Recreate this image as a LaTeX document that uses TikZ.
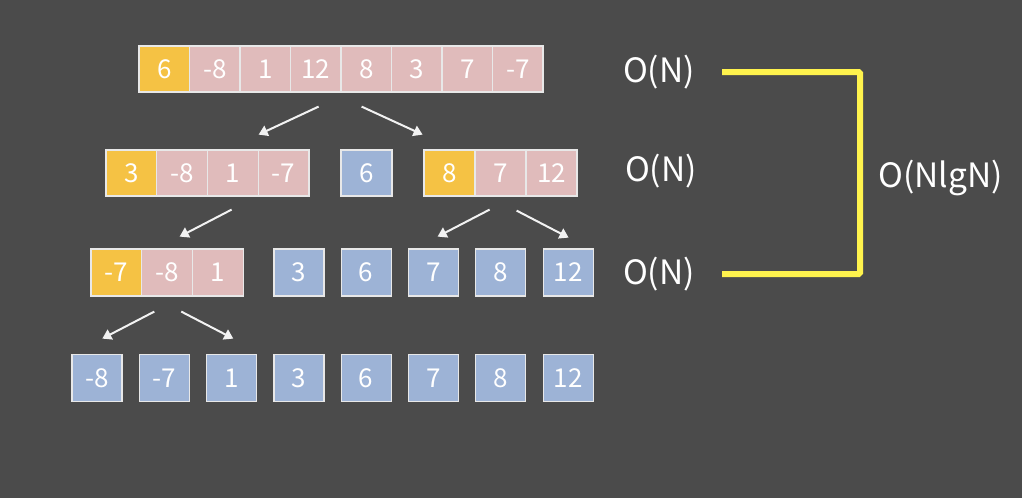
\documentclass[tikz,border=0pt]{standalone}
\usepackage{fontspec}
\setmainfont{Noto Sans CJK SC}
\usepackage{tikz}
\usetikzlibrary{arrows.meta,positioning,calc}
\definecolor{bg}{HTML}{4B4B4B}
\definecolor{pivotyellow}{HTML}{F5C244}
\definecolor{cellpink}{HTML}{E0BBBB}
\definecolor{cellblue}{HTML}{9DB3D6}
\definecolor{cellborder}{HTML}{E8E8E8}
\definecolor{bracketyellow}{HTML}{FFF34D}
\tikzset{
    cell/.style={draw=cellborder, line width=1.2pt, fill=cellpink, text=white,
        minimum height=46pt, inner sep=0pt, font=\fontsize{26}{28}\selectfont},
    pivot/.style={cell, fill=pivotyellow},
    done/.style={cell, fill=cellblue, minimum width=50pt, minimum height=47pt},
    arr/.style={draw=white!95!black, line width=2pt, -{Triangle[length=9pt,width=11pt]}},
    cost/.style={text=white, inner sep=0pt, font=\fontsize{33.5}{36}\selectfont},
    bracket/.style={draw=bracketyellow, line width=6pt, rounded corners=1.5pt}
}

\begin{document}
\begin{tikzpicture}[x=1pt, y=-1pt]
        % Background
        \fill[bg] (0,0) rectangle (1022,498);
        \useasboundingbox (0,0) rectangle (1022,498);

        % Whole array
        \foreach \v [count=\i] in {6,-8,1,12,8,3,7,-7} {
            \ifnum\i=1
                \node[pivot, minimum width=50.5pt] (t\i) at ({139+25.25+(\i-1)*50.5},69) {\v};
            \else
                \node[cell, minimum width=50.5pt] (t\i) at ({139+25.25+(\i-1)*50.5},69) {\v};
            \fi
        }

        % First split
        \foreach \v [count=\i] in {3,-8,1,-7} {
            \ifnum\i=1
                \node[pivot, minimum width=50.75pt] (a\i) at ({106+25.4+(\i-1)*50.75},173) {\v};
            \else
                \node[cell, minimum width=50.75pt] (a\i) at ({106+25.4+(\i-1)*50.75},173) {\v};
            \fi
        }
        \node[done, minimum height=46pt, minimum width=51pt] (b1) at (366.5,173) {6};
        \foreach \v [count=\i] in {8,7,12} {
            \ifnum\i=1
                \node[pivot, minimum width=51pt] (c\i) at ({424+25.5+(\i-1)*51},173) {\v};
            \else
                \node[cell, minimum width=51pt] (c\i) at ({424+25.5+(\i-1)*51},173) {\v};
            \fi
        }

        % Second split
        \foreach \v [count=\i] in {-7,-8,1} {
            \ifnum\i=1
                \node[pivot, minimum width=50.7pt, minimum height=47pt] (d\i) at ({91+25.35+(\i-1)*50.7},272.5) {\v};
            \else
                \node[cell, minimum width=50.7pt, minimum height=47pt] (d\i) at ({91+25.35+(\i-1)*50.7},272.5) {\v};
            \fi
        }
        \foreach \v [count=\i from 4] in {3,6,7,8,12}
            \node[done] (e\i) at ({97+(\i-1)*67.3},272.5) {\v};

        % Sorted
        \foreach \v [count=\i] in {-8,-7,1,3,6,7,8,12}
            \node[done] (s\i) at ({97+(\i-1)*67.3},378) {\v};

        % Split arrows
        \draw[arr] ([shift={(-23,14)}]t4.south east) -- ++(-60,28);
        \draw[arr] ([shift={(20,14)}]t4.south east) -- ++(61,28);
        \draw[arr] ([shift={(23.5,13)}]a2.south east) -- ++(-52,27);
        \draw[arr] ([shift={(14,13)}]c1.south east) -- ++(-52,27);
        \draw[arr] ([shift={(41,14)}]c1.south east) -- ++(52,27);
        \draw[arr] ([shift={(12,15)}]d1.south east) -- ++(-52,27);
        \draw[arr] ([shift={(39,15)}]d1.south east) -- ++(52,27);

        % Cost per level
        \node[cost, anchor=east] (on1) at (695,72) {O(N)};
        \node[cost, anchor=east] (on2) at (697,171) {O(N)};
        \node[cost, anchor=east] (on3) at (695,274) {O(N)};
        \draw[bracket] ([xshift=27pt]on1.east) -- ++(138,0) |- ([xshift=27pt]on3.east);
        \node[cost, anchor=west] (total) at (878,178) {O(NlgN)};
    \end{tikzpicture}
\end{document}
